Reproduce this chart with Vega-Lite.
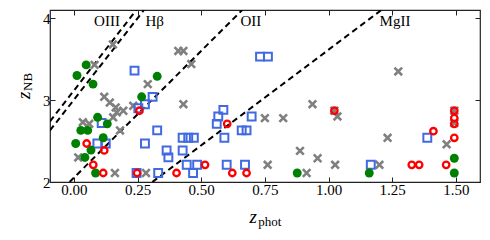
{
  "$schema": "https://vega.github.io/schema/vega-lite/v6.json",
  "width": 430,
  "height": 172,
  "autosize": "none",
  "padding": {"left": 50, "top": 10, "right": 10, "bottom": 58},
  "background": "white",
  "config": {
    "view": {"stroke": "#222", "strokeWidth": 1.2},
    "axis": {"grid": false, "domain": false, "tickColor": "#222", "tickWidth": 1, "tickSize": -5, "labelFont": "Liberation Serif", "labelFontSize": 15, "labelColor": "#000", "title": null, "labelOverlap": false, "labelFlush": false}
  },
  "datasets": {
    "lines": [
      {"line": "OIII", "x": -0.094, "y": 2.74}, {"line": "OIII", "x": 0.245, "y": 4.1},
      {"line": "Hb", "x": -0.094, "y": 2.63}, {"line": "Hb", "x": 0.275, "y": 4.1},
      {"line": "OII", "x": -0.017, "y": 2.0}, {"line": "OII", "x": 0.661, "y": 4.1},
      {"line": "MgII", "x": 0.308, "y": 2.0}, {"line": "MgII", "x": 1.208, "y": 4.1}
    ],
    "cross": [
      {"x": 0.153, "y": 3.68}, {"x": 0.081, "y": 3.43}, {"x": 0.41, "y": 3.6}, {"x": 0.43, "y": 3.6},
      {"x": 0.461, "y": 3.44}, {"x": 0.29, "y": 3.195}, {"x": 0.119, "y": 3.04}, {"x": 0.141, "y": 2.97},
      {"x": 0.164, "y": 2.91}, {"x": 0.168, "y": 2.85}, {"x": 0.194, "y": 2.87}, {"x": 0.154, "y": 2.79},
      {"x": 0.035, "y": 2.73}, {"x": 0.06, "y": 2.71}, {"x": 0.181, "y": 2.63}, {"x": 0.017, "y": 2.3},
      {"x": 0.161, "y": 2.11}, {"x": 0.233, "y": 2.93}, {"x": 0.283, "y": 2.11}, {"x": 0.43, "y": 2.95},
      {"x": 0.75, "y": 2.78}, {"x": 0.822, "y": 2.78}, {"x": 0.937, "y": 2.95}, {"x": 1.035, "y": 2.8},
      {"x": 0.888, "y": 2.38}, {"x": 0.957, "y": 2.29}, {"x": 0.761, "y": 2.21}, {"x": 1.026, "y": 2.21},
      {"x": 0.914, "y": 2.11}, {"x": 1.232, "y": 2.54}, {"x": 1.464, "y": 2.46}, {"x": 1.2, "y": 2.21},
      {"x": 1.274, "y": 3.35}, {"x": 1.023, "y": 2.87}, {"x": 1.494, "y": 2.87}, {"x": 1.494, "y": 2.72}
    ],
    "square": [
      {"x": 0.238, "y": 3.36}, {"x": 0.309, "y": 3.04}, {"x": 0.279, "y": 2.95}, {"x": 0.253, "y": 2.9},
      {"x": 0.731, "y": 3.53}, {"x": 0.762, "y": 3.53}, {"x": 0.327, "y": 2.63}, {"x": 0.279, "y": 2.47},
      {"x": 0.364, "y": 2.385}, {"x": 0.371, "y": 2.3}, {"x": 0.427, "y": 2.54}, {"x": 0.449, "y": 2.54},
      {"x": 0.471, "y": 2.54}, {"x": 0.427, "y": 2.385}, {"x": 0.443, "y": 2.21}, {"x": 0.484, "y": 2.21},
      {"x": 0.331, "y": 2.11}, {"x": 0.468, "y": 2.11}, {"x": 0.246, "y": 2.11}, {"x": 0.109, "y": 2.72},
      {"x": 0.092, "y": 2.47}, {"x": 0.125, "y": 2.47}, {"x": 0.587, "y": 2.88}, {"x": 0.567, "y": 2.8},
      {"x": 0.561, "y": 2.71}, {"x": 0.591, "y": 2.54}, {"x": 0.698, "y": 2.8}, {"x": 0.659, "y": 2.63},
      {"x": 0.678, "y": 2.63}, {"x": 0.6, "y": 2.21}, {"x": 0.672, "y": 2.21}, {"x": 1.388, "y": 2.54},
      {"x": 1.166, "y": 2.21}
    ],
    "dot": [
      {"x": 0.048, "y": 3.43}, {"x": 0.012, "y": 3.3}, {"x": 0.075, "y": 3.195}, {"x": 0.327, "y": 3.29},
      {"x": 0.266, "y": 3.04}, {"x": 0.093, "y": 2.79}, {"x": 0.131, "y": 2.71}, {"x": 0.027, "y": 2.63},
      {"x": 0.054, "y": 2.63}, {"x": 0.115, "y": 2.54}, {"x": 0.007, "y": 2.47}, {"x": 0.067, "y": 2.39},
      {"x": 0.043, "y": 2.3}, {"x": 0.085, "y": 2.11}, {"x": 0.877, "y": 2.11}, {"x": 1.16, "y": 2.11},
      {"x": 1.494, "y": 2.29}, {"x": 1.494, "y": 2.11}
    ],
    "ring": [
      {"x": 0.257, "y": 2.87}, {"x": 0.05, "y": 2.47}, {"x": 0.119, "y": 2.385}, {"x": 0.076, "y": 2.21},
      {"x": 0.115, "y": 2.11}, {"x": 0.248, "y": 2.11}, {"x": 0.403, "y": 2.11}, {"x": 0.515, "y": 2.21},
      {"x": 0.602, "y": 2.71}, {"x": 0.622, "y": 2.11}, {"x": 0.678, "y": 2.11}, {"x": 1.023, "y": 2.87},
      {"x": 1.412, "y": 2.62}, {"x": 1.494, "y": 2.87}, {"x": 1.494, "y": 2.78}, {"x": 1.494, "y": 2.71},
      {"x": 1.494, "y": 2.54}, {"x": 1.327, "y": 2.21}, {"x": 1.356, "y": 2.21}, {"x": 1.462, "y": 2.21}
    ],
    "labels": [
      {"text": "OIII", "x": 0.13, "y": 3.965}, {"text": "Hβ", "x": 0.317, "y": 3.965},
      {"text": "OII", "x": 0.695, "y": 3.965}, {"text": "MgII", "x": 1.261, "y": 3.965}
    ],
    "xmain": [{"text": "z", "x": 0.719, "y": 1.504}],
    "xsub": [{"text": "phot", "x": 0.724, "y": 1.465}],
    "ymain": [{"text": "z", "x": -0.174, "y": 3.105}],
    "ysub": [{"text": "NB", "x": -0.164, "y": 3.111}]
  },
  "resolve": {"axis": {"x": "independent", "y": "independent"}},
  "layer": [
    {
      "data": {"name": "lines"},
      "mark": {"type": "line", "color": "#000", "strokeWidth": 2, "strokeDash": [6, 4], "clip": true},
      "encoding": {
        "x": {"field": "x", "type": "quantitative", "scale": {"domain": [-0.094, 1.595], "nice": false, "zero": false},
          "axis": {"orient": "bottom", "values": [0, 0.25, 0.5, 0.75, 1.0, 1.25, 1.5], "format": ".2f", "labelPadding": 5, "labelOverlap": false}},
        "y": {"field": "y", "type": "quantitative", "scale": {"domain": [2, 4.1], "nice": false, "zero": false},
          "axis": {"orient": "left", "values": [2, 3, 4], "labelExpr": "datum.value == 2 ? '2' : datum.value == 3 ? '3' : '4'", "labelPadding": 5, "labelOverlap": false, "labelBound": false, "labelFlush": false}},
        "detail": {"field": "line"}
      }
    },
    {
      "data": {"name": "cross"},
      "mark": {"type": "point", "shape": "M-1,-1L1,1M-1,1L1,-1", "filled": false, "stroke": "#808080", "strokeWidth": 2.6, "size": 58, "opacity": 1},
      "encoding": {
        "x": {"field": "x", "type": "quantitative", "axis": null},
        "y": {"field": "y", "type": "quantitative", "axis": null}
      }
    },
    {
      "data": {"name": "square"},
      "mark": {"type": "point", "shape": "square", "filled": false, "stroke": "#4169e1", "strokeWidth": 2, "size": 62, "opacity": 1},
      "encoding": {
        "x": {"field": "x", "type": "quantitative", "axis": null},
        "y": {"field": "y", "type": "quantitative", "axis": null}
      }
    },
    {
      "data": {"name": "dot"},
      "mark": {"type": "point", "shape": "circle", "filled": true, "fill": "#008000", "size": 80, "opacity": 1},
      "encoding": {
        "x": {"field": "x", "type": "quantitative", "axis": null},
        "y": {"field": "y", "type": "quantitative", "axis": null}
      }
    },
    {
      "data": {"name": "ring"},
      "mark": {"type": "point", "shape": "circle", "filled": false, "stroke": "#ff0000", "strokeWidth": 2.3, "size": 42, "opacity": 1},
      "encoding": {
        "x": {"field": "x", "type": "quantitative", "axis": null},
        "y": {"field": "y", "type": "quantitative", "axis": null}
      }
    },
    {
      "data": {"name": "labels"},
      "mark": {"type": "text", "font": "Liberation Serif", "fontSize": 15, "color": "#000", "baseline": "middle", "align": "center"},
      "encoding": {
        "x": {"field": "x", "type": "quantitative", "axis": {"orient": "top", "values": [0, 0.25, 0.5, 0.75, 1.0, 1.25, 1.5], "labels": false}},
        "y": {"field": "y", "type": "quantitative", "axis": {"orient": "right", "values": [2, 3, 4], "labels": false}},
        "text": {"field": "text"}
      }
    },
    {
      "data": {"name": "xmain"},
      "mark": {"type": "text", "font": "Liberation Serif", "fontSize": 19, "fontStyle": "italic", "color": "#000", "baseline": "alphabetic", "align": "right"},
      "encoding": {
        "x": {"field": "x", "type": "quantitative", "axis": null},
        "y": {"field": "y", "type": "quantitative", "axis": null},
        "text": {"field": "text"}
      }
    },
    {
      "data": {"name": "xsub"},
      "mark": {"type": "text", "font": "Liberation Serif", "fontSize": 13, "color": "#000", "baseline": "alphabetic", "align": "left"},
      "encoding": {
        "x": {"field": "x", "type": "quantitative", "axis": null},
        "y": {"field": "y", "type": "quantitative", "axis": null},
        "text": {"field": "text"}
      }
    },
    {
      "data": {"name": "ymain"},
      "mark": {"type": "text", "font": "Liberation Serif", "fontSize": 19, "fontStyle": "italic", "color": "#000", "baseline": "alphabetic", "align": "right", "angle": 270},
      "encoding": {
        "x": {"field": "x", "type": "quantitative", "axis": null},
        "y": {"field": "y", "type": "quantitative", "axis": null},
        "text": {"field": "text"}
      }
    },
    {
      "data": {"name": "ysub"},
      "mark": {"type": "text", "font": "Liberation Serif", "fontSize": 13, "color": "#000", "baseline": "alphabetic", "align": "left", "angle": 270},
      "encoding": {
        "x": {"field": "x", "type": "quantitative", "axis": null},
        "y": {"field": "y", "type": "quantitative", "axis": null},
        "text": {"field": "text"}
      }
    }
  ]
}
